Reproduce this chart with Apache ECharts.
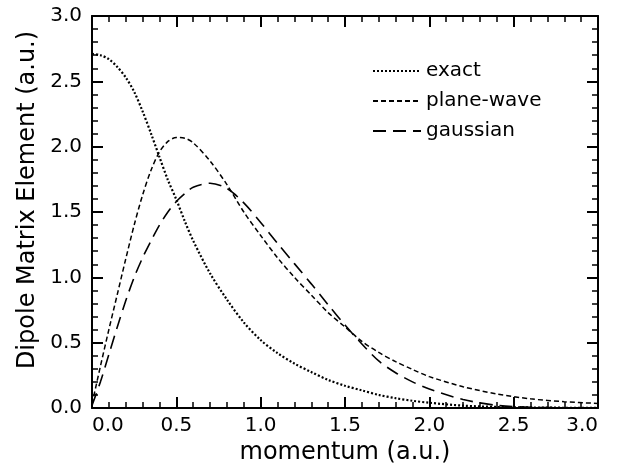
<!DOCTYPE html>
<html>
<head>
<meta charset="utf-8">
<script src="https://cdn.jsdelivr.net/npm/echarts@6/dist/echarts.min.js"></script>
<style>html,body{margin:0;padding:0;background:#fff}#c{width:618px;height:471px}</style>
</head>
<body>
<div id="c"></div>
<script>
var momentum = [0, 0.05, 0.1, 0.15, 0.2, 0.25, 0.3, 0.35, 0.4, 0.45, 0.5, 0.55, 0.6, 0.7, 0.8, 0.9, 1.0, 1.1, 1.2, 1.3, 1.4, 1.5, 1.6, 1.7, 1.8, 1.9, 2.0, 2.2, 2.4, 2.6, 2.8, 3.0];
var exact = [2.71, 2.70, 2.67, 2.61, 2.53, 2.42, 2.27, 2.10, 1.92, 1.745, 1.595, 1.43, 1.28, 1.03, 0.83, 0.655, 0.52, 0.42, 0.34, 0.275, 0.215, 0.17, 0.135, 0.10, 0.075, 0.055, 0.04, 0.018, 0.008, 0.004, 0.002, 0.001];
var planeWave = [0.03, 0.32, 0.60, 0.87, 1.14, 1.40, 1.63, 1.82, 1.96, 2.04, 2.07, 2.065, 2.03, 1.89, 1.71, 1.50, 1.32, 1.15, 1.00, 0.865, 0.73, 0.62, 0.51, 0.425, 0.355, 0.295, 0.24, 0.163, 0.107, 0.07, 0.048, 0.035];
var gaussian = [0.02, 0.20, 0.41, 0.62, 0.82, 1.00, 1.15, 1.28, 1.40, 1.50, 1.58, 1.64, 1.69, 1.72, 1.68, 1.57, 1.42, 1.26, 1.105, 0.95, 0.79, 0.635, 0.49, 0.36, 0.27, 0.20, 0.145, 0.065, 0.02, 0.006, 0.002, 0.0];
var seriesNames = ['exact', 'plane-wave', 'gaussian'];
var xTitle = 'momentum (a.u.)';
var yTitle = 'Dipole Matrix Element (a.u.)';

function pairs(ys) { return momentum.map(function (x, i) { return [x, ys[i]]; }); }

var FONT = 'DejaVu Sans';
var axisCommon = {
  min: 0, max: 3, interval: 0.5,
  axisLine: { show: true, onZero: false, lineStyle: { color: '#000', width: 2 } },
  axisTick: { show: true, inside: true, length: 11, lineStyle: { color: '#000', width: 2 } },
  minorTick: { show: true, splitNumber: 5, length: 6, lineStyle: { color: '#000', width: 1.5 } },
  splitLine: { show: false },
  minorSplitLine: { show: false }
};
function ax(extra) { return Object.assign({}, JSON.parse(JSON.stringify(axisCommon)), extra); }

var chart = echarts.init(document.getElementById('c'), null, { renderer: 'canvas' });
chart.setOption({
  animation: false,
  backgroundColor: '#fff',
  grid: { left: 92, top: 16, right: 20, bottom: 63, containLabel: false },
  legend: {
    orient: 'vertical', left: 367, top: 56,
    itemWidth: 48, itemHeight: 20, itemGap: 10,
    itemStyle: { opacity: 0, borderWidth: 0 },
    textStyle: { fontFamily: FONT, fontSize: 20, color: '#000', lineHeight: 20 },
    data: seriesNames
  },
  xAxis: [
    ax({ type: 'value', position: 'bottom',
      name: xTitle, nameLocation: 'middle', nameGap: 21,
      nameTextStyle: { fontFamily: FONT, fontSize: 24, color: '#000' },
      axisLabel: { show: true, margin: 8, fontFamily: FONT, fontSize: 20, color: '#000',
        alignMinLabel: 'left', alignMaxLabel: 'right',
        formatter: function (v) { return v.toFixed(1); } } }),
    ax({ type: 'value', position: 'top', axisLabel: { show: false } })
  ],
  yAxis: [
    ax({ type: 'value', position: 'left',
      name: yTitle, nameLocation: 'middle', nameGap: 52,
      nameTextStyle: { fontFamily: FONT, fontSize: 24, color: '#000', padding: [0, 0, 0, 24] },
      axisLabel: { show: true, margin: 10, fontFamily: FONT, fontSize: 20, color: '#000',
        formatter: function (v) { return v.toFixed(1); } } }),
    ax({ type: 'value', position: 'right', axisLabel: { show: false } })
  ],
  series: [
    { name: seriesNames[0], type: 'line', data: pairs(exact), symbol: 'none', smooth: 0.3,
      itemStyle: { color: '#000' },
      lineStyle: { color: '#000', width: 2.2, type: [2, 2] } },
    { name: seriesNames[1], type: 'line', data: pairs(planeWave), symbol: 'none', smooth: 0.3,
      itemStyle: { color: '#000' },
      lineStyle: { color: '#000', width: 1.5, type: [5, 3] } },
    { name: seriesNames[2], type: 'line', data: pairs(gaussian), symbol: 'none', smooth: 0.3,
      itemStyle: { color: '#000' },
      lineStyle: { color: '#000', width: 1.6, type: [13, 7] } }
  ]
});
</script>
</body>
</html>
